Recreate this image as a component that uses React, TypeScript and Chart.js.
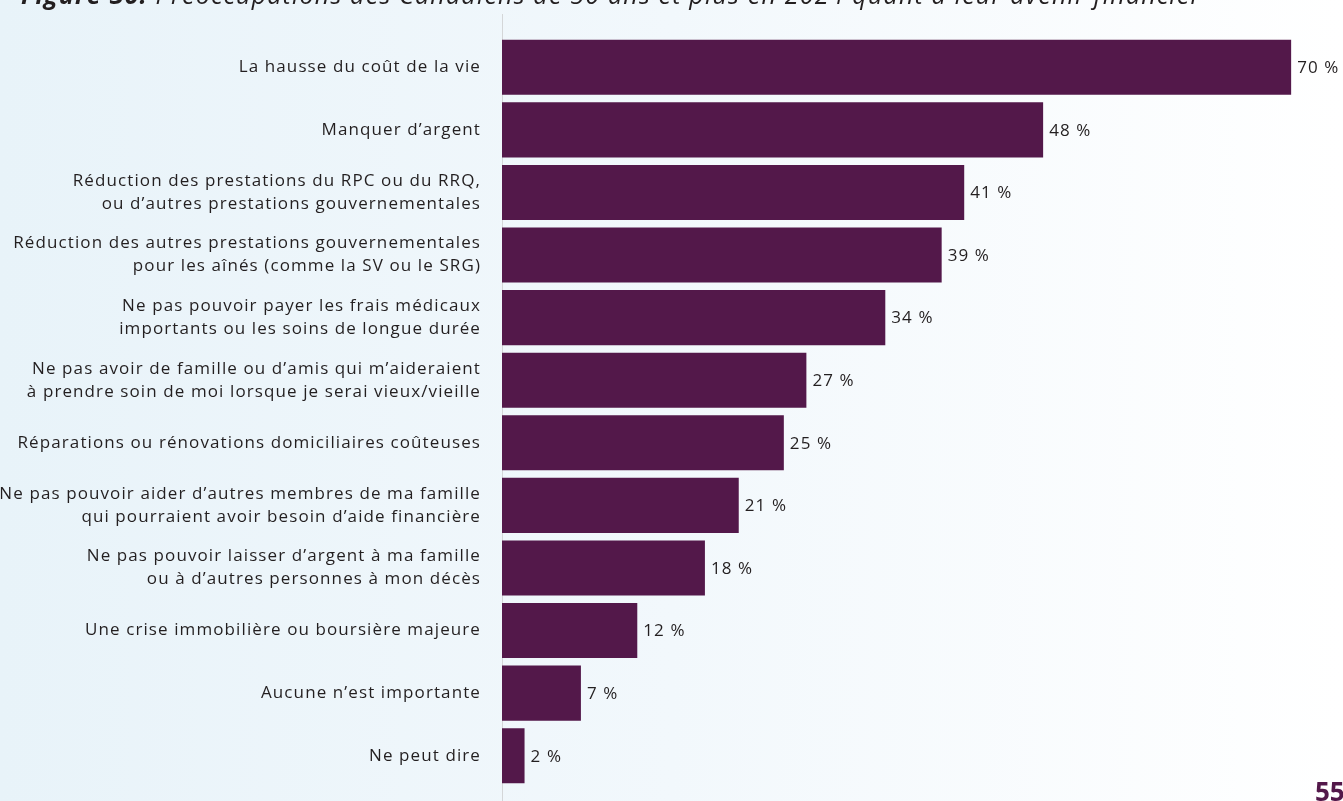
import React, { useEffect, useRef } from "react";
import { Chart, registerables } from "chart.js";

Chart.register(...registerables);

const categories: (string | string[])[] = [
  "La hausse du coût de la vie",
  "Manquer d’argent",
  ["Réduction des prestations du RPC ou du RRQ,", "ou d’autres prestations gouvernementales"],
  ["Réduction des autres prestations gouvernementales", "pour les aînés (comme la SV ou le SRG)"],
  ["Ne pas pouvoir payer les frais médicaux", "importants ou les soins de longue durée"],
  ["Ne pas avoir de famille ou d’amis qui m’aideraient", "à prendre soin de moi lorsque je serai vieux/vieille"],
  "Réparations ou rénovations domiciliaires coûteuses",
  ["Ne pas pouvoir aider d’autres membres de ma famille", "qui pourraient avoir besoin d’aide financière"],
  ["Ne pas pouvoir laisser d’argent à ma famille", "ou à d’autres personnes à mon décès"],
  "Une crise immobilière ou boursière majeure",
  "Aucune n’est importante",
  "Ne peut dire",
];

const values: number[] = [70, 48, 41, 39, 34, 27, 25, 21, 18, 12, 7, 2];

const titleBold = "Figure 30:";
const titleRest = " Préoccupations des Canadiens de 50 ans et plus en 2024 quant à leur avenir financier";
const pageNumber = "55";

const FONT = "'Open Sans', 'Noto Sans', sans-serif";
const BAR_COLOR = "#53184a";
const TEXT_COLOR = "#231f20";
const SPACING = "1.1px";

export default function App() {
  const ref = useRef<HTMLCanvasElement | null>(null);

  useEffect(() => {
    document.body.style.margin = "0";
    const canvas = ref.current;
    if (!canvas) return;

    const setSpacing = (chart: any) => {
      try {
        (chart.ctx as any).letterSpacing = SPACING;
      } catch (e) {}
    };

    const extras = {
      id: "extras",
      beforeInit: setSpacing,
      beforeLayout: setSpacing,
      beforeDraw: setSpacing,
      beforeDatasetsDraw(chart: any) {
        const { ctx, chartArea, height } = chart;
        ctx.save();
        ctx.strokeStyle = "#d4d6d8";
        ctx.lineWidth = 1;
        ctx.beginPath();
        ctx.moveTo(Math.round(chartArea.left) + 0.5, 14);
        ctx.lineTo(Math.round(chartArea.left) + 0.5, height);
        ctx.stroke();
        ctx.restore();
      },
      afterDatasetsDraw(chart: any) {
        const { ctx } = chart;
        const meta = chart.getDatasetMeta(0);
        ctx.save();
        ctx.letterSpacing = SPACING;
        ctx.fillStyle = TEXT_COLOR;
        ctx.font = `17px ${FONT}`;
        ctx.textAlign = "left";
        ctx.textBaseline = "middle";
        meta.data.forEach((bar: any, i: number) => {
          ctx.fillText(`${values[i]} %`, bar.x + 6, bar.y + 1);
        });
        // title (cut at the top)
        ctx.letterSpacing = "1.2px";
        ctx.textBaseline = "alphabetic";
        ctx.font = `italic bold 25px ${FONT}`;
        ctx.fillText(titleBold, 21, 4);
        const w = ctx.measureText(titleBold).width;
        ctx.font = `italic 25px ${FONT}`;
        ctx.fillText(titleRest, 21 + w, 4);
        // page number
        ctx.letterSpacing = "0px";
        ctx.fillStyle = BAR_COLOR;
        ctx.font = `bold 26px ${FONT}`;
        ctx.fillText(pageNumber, 1315, 801);
        ctx.restore();
      },
    };

    const chart = new Chart(canvas, {
      type: "bar",
      data: {
        labels: categories,
        datasets: [
          {
            data: values,
            backgroundColor: BAR_COLOR,
            borderWidth: 0,
            barPercentage: 0.88,
            categoryPercentage: 1,
          },
        ],
      },
      options: {
        indexAxis: "y",
        animation: false,
        responsive: false,
        maintainAspectRatio: false,
        layout: { padding: { top: 36, bottom: 14, left: 0, right: 0 } },
        plugins: {
          legend: { display: false },
          tooltip: { enabled: false },
          title: { display: false },
        },
        scales: {
          x: {
            display: false,
            min: 0,
            max: 74.6,
          },
          y: {
            grid: { display: false, drawTicks: false },
            border: { display: false },
            ticks: {
              color: TEXT_COLOR,
              padding: 21,
              font: { family: FONT, size: 17, lineHeight: 1.35 },
            },
            afterFit(scale: any) {
              scale.width = 502;
              scale.paddingTop = 0;
              scale.paddingBottom = 0;
            },
          },
        },
      },
      plugins: [extras],
    });

    return () => chart.destroy();
  }, []);

  return (
    <div
      style={{
        position: "relative",
        width: 1343,
        height: 801,
        overflow: "hidden",
        background: "linear-gradient(to right, #e8f3f9 0%, #f2f8fc 50%, #ffffff 100%)",
      }}
    >
      <canvas ref={ref} width={1343} height={801} style={{ display: "block" }} />
    </div>
  );
}
